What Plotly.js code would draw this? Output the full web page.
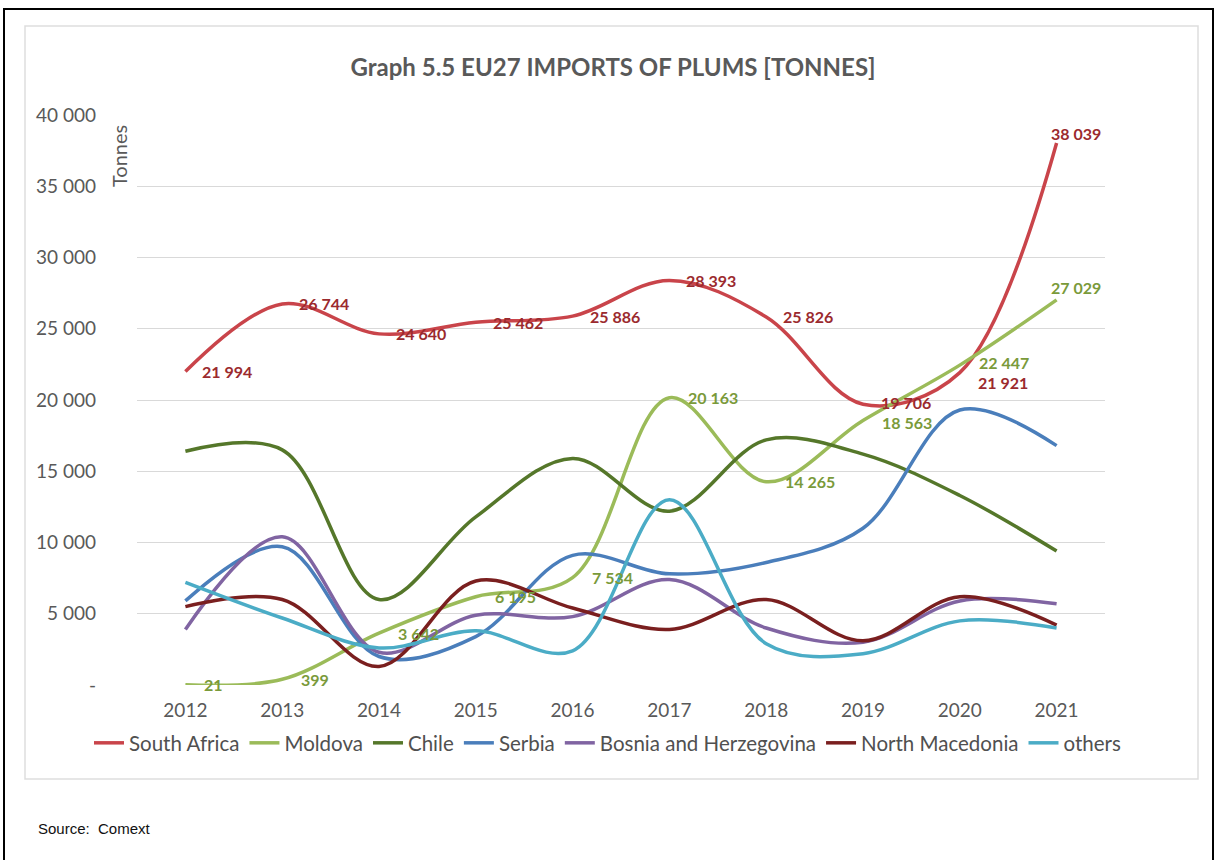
<!DOCTYPE html>
<html>
<head>
<meta charset="utf-8">
<script src="https://cdn.plot.ly/plotly-3.0.1.min.js"></script>
<style>
html,body{margin:0;padding:0;background:#fff;}
#chart{width:1216px;height:860px;}
</style>
</head>
<body>
<div id="chart"></div>
<script>
// ---- data ----
const years = [2012, 2013, 2014, 2015, 2016, 2017, 2018, 2019, 2020, 2021];
const seriesNames = ["South Africa", "Moldova", "Chile", "Serbia", "Bosnia and Herzegovina", "North Macedonia", "others"];
const southAfrica = [21994, 26744, 24640, 25462, 25886, 28393, 25826, 19706, 21921, 38039];
const moldova = [21, 399, 3642, 6195, 7534, 20163, 14265, 18563, 22447, 27029];
const chile = [16400, 16500, 6000, 11800, 15900, 12200, 17200, 16200, 13300, 9400];
const serbia = [5900, 9700, 2000, 3400, 9100, 7800, 8600, 11000, 19300, 16800];
const bosnia = [3900, 10400, 2300, 4900, 4800, 7400, 4000, 3000, 5900, 5700];
const macedonia = [5500, 6000, 1300, 7300, 5400, 3900, 6000, 3100, 6200, 4200];
const others = [7200, 4700, 2600, 3800, 2400, 13000, 2900, 2200, 4500, 4000];
const yTickVals = [0, 5000, 10000, 15000, 20000, 25000, 30000, 35000, 40000];
const yTickText = ["-", "5 000", "10 000", "15 000", "20 000", "25 000", "30 000", "35 000", "40 000"];
const chartTitle = "Graph 5.5 EU27 IMPORTS OF PLUMS [TONNES]";
const yLabel = "Tonnes";
const sourceText = "Source:  Comext";

// ---- styles ----
const lineColors = ["#c9444a", "#9bbb59", "#55772a", "#4a7ebb", "#8064a2", "#7a1f1f", "#4bacc6"];
const labelColorSA = "#9b2a2e";
const labelColorMD = "#7a9a3a";
const W = 1216, H = 860;
const M = {l: 137, r: W - 1105, t: 115, b: H - 685};
const PW = W - M.l - M.r, PH = H - M.t - M.b;
const px = v => (v - M.l) / PW;
const py = v => (H - M.b - v) / PH;
const fmt = v => String(v).replace(/\B(?=(\d{3})+(?!\d))/g, " ");

const allSeries = [southAfrica, moldova, chile, serbia, bosnia, macedonia, others];
const traces = allSeries.map((vals, i) => ({
  type: "scatter", mode: "lines", x: years, y: vals, name: seriesNames[i],
  line: {color: lineColors[i], width: 3.5, shape: "spline", smoothing: 1},
  hoverinfo: "x+y+name"
}));

// label offsets (pixels) per series/point; default right of point
const saOff = years.map(() => [15, 0]);
saOff[7] = [16, 2]; saOff[8] = [16, -10]; saOff[9] = [-8, 9];
const mdOff = years.map(() => [17, 0]);
mdOff[7] = [17, -2]; mdOff[8] = [17, 3]; mdOff[9] = [-8, 12];

const annotations = [];
years.forEach((yr, i) => {
  annotations.push({x: yr, y: southAfrica[i], xref: "x", yref: "y", text: fmt(southAfrica[i]),
    showarrow: false, xanchor: "left", yanchor: "middle", xshift: saOff[i][0], yshift: saOff[i][1],
    font: {family: "Lato, 'Open Sans', sans-serif", size: 16, color: labelColorSA, weight: "bold"}});
  annotations.push({x: yr, y: moldova[i], xref: "x", yref: "y", text: fmt(moldova[i]),
    showarrow: false, xanchor: "left", yanchor: "middle", xshift: mdOff[i][0], yshift: mdOff[i][1],
    font: {family: "Lato, 'Open Sans', sans-serif", size: 16, color: labelColorMD, weight: "bold"}});
});
annotations.push({xref: "paper", yref: "paper", x: px(119), y: py(156), text: yLabel, textangle: -90,
  showarrow: false, xanchor: "center", yanchor: "middle",
  font: {family: "Lato, sans-serif", size: 20, color: "#595959"}});
annotations.push({xref: "paper", yref: "paper", x: px(36), y: py(828), text: sourceText,
  showarrow: false, xanchor: "left", yanchor: "middle",
  font: {family: "'Liberation Sans', Arial, sans-serif", size: 15, color: "#111"}});

const shapes = [
  {type: "rect", xref: "paper", yref: "paper", x0: px(4), x1: px(1213), y0: py(900), y1: py(9),
   line: {color: "#000", width: 2}, fillcolor: "rgba(0,0,0,0)", layer: "below"},
  {type: "rect", xref: "paper", yref: "paper", x0: px(25), x1: px(1198), y0: py(779), y1: py(26),
   line: {color: "#dedede", width: 1.5}, fillcolor: "rgba(0,0,0,0)", layer: "below"}
];

const layout = {
  width: W, height: H, margin: M,
  paper_bgcolor: "#fff", plot_bgcolor: "#fff",
  title: {text: "<b>" + chartTitle + "</b>", x: px(613), xref: "paper", xanchor: "center", y: 1 - 68 / H, yanchor: "middle",
    font: {family: "Lato, 'Open Sans', sans-serif", size: 24, color: "#595959"}},
  xaxis: {type: "linear", range: [2011.5, 2021.5], tickvals: years, ticktext: years.map(String),
    showgrid: false, zeroline: false, showline: false, ticks: "", ticklabelstandoff: 12,
    tickfont: {family: "Lato, sans-serif", size: 19, color: "#595959"}, fixedrange: true},
  yaxis: {range: [0, 40000], tickvals: yTickVals, ticktext: yTickText,
    showgrid: true, gridcolor: "#d9d9d9", gridwidth: 1, zeroline: false, showline: false, ticks: "",
    ticklabelstandoff: 40,
    tickfont: {family: "Lato, sans-serif", size: 19, color: "#595959"}, fixedrange: true},
  legend: {orientation: "h", x: px(89), xanchor: "left", y: py(743), yanchor: "middle",
    font: {family: "Lato, sans-serif", size: 20.5, color: "#505050"}, itemwidth: 30, tracegroupgap: 0,
    bgcolor: "rgba(0,0,0,0)"},
  showlegend: true,
  annotations: annotations,
  shapes: shapes
};

Plotly.newPlot("chart", traces, layout, {displayModeBar: false, staticPlot: true});
</script>
</body>
</html>
